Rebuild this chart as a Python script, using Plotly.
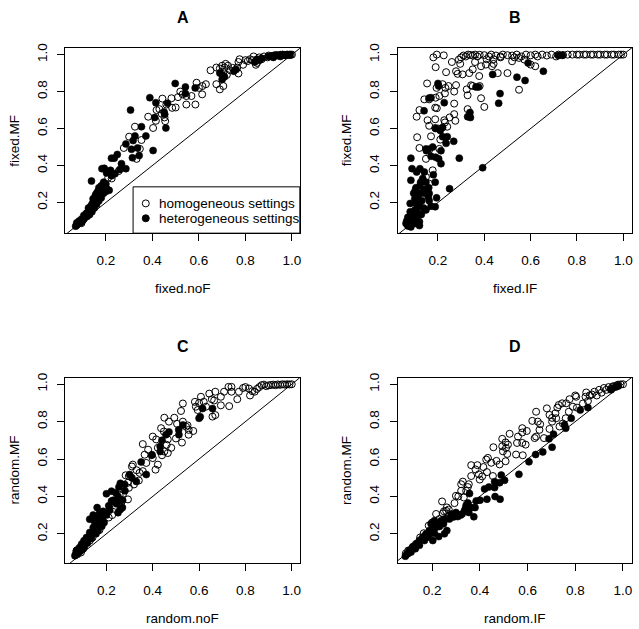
import plotly.graph_objects as go

W, H = 639, 629
FONT = "Liberation Sans, Arial, Helvetica, sans-serif"

TICKS = [0.2, 0.4, 0.6, 0.8, 1.0]
TICK_TEXT = ["0.2", "0.4", "0.6", "0.8", "1.0"]
LEGEND_LABELS = ["homogeneous settings", "heterogeneous settings"]

# ---------------- Panel A : fixed.noF vs fixed.MF ----------------
A_HOM = [(1.00,1.000),(0.995,0.999),(0.99,1.000),(0.985,0.998),(0.98,1.000),(0.975,0.999),(0.97,0.998),
         (0.96,1.000),(0.955,0.997),(0.95,0.999),(0.94,0.996),(0.93,0.998),(0.92,0.994),(0.91,0.992),
         (0.90,0.995),(0.895,0.985),(0.88,0.990),(0.87,0.975),(0.86,0.985),(0.85,0.955),(0.845,0.945),
         (0.835,0.99),(0.83,0.97),(0.82,0.975),(0.81,0.965),(0.80,0.97),(0.79,0.945),(0.775,0.975),
         (0.77,0.96),(0.765,0.93),(0.77,0.898),(0.745,0.928),(0.735,0.915),(0.725,0.94),(0.715,0.95),
         (0.71,0.93),(0.70,0.94),(0.69,0.925),(0.705,0.905),(0.72,0.89),(0.675,0.93),(0.65,0.915),
         (0.675,0.84),(0.69,0.812),(0.705,0.83),(0.63,0.84),(0.615,0.83),(0.614,0.785),(0.60,0.82),
         (0.59,0.848),(0.585,0.73),(0.568,0.776),(0.546,0.776),(0.546,0.73),(0.52,0.80),(0.53,0.785),
         (0.51,0.77),(0.50,0.714),(0.482,0.764),(0.485,0.712),(0.46,0.73),(0.443,0.762),(0.418,0.70),
         (0.44,0.68),(0.43,0.705),(0.382,0.664),(0.415,0.642),(0.452,0.66),(0.403,0.603),(0.455,0.64),
         (0.30,0.556),(0.325,0.61),(0.353,0.538),(0.332,0.436),(0.346,0.49),(0.277,0.495),(0.21,0.334),
         (0.225,0.33),(0.255,0.37),(0.175,0.23),(0.16,0.21),(0.15,0.19),(0.135,0.165),(0.125,0.14),
         (0.11,0.12),(0.10,0.105),(0.09,0.095),(0.085,0.09),(0.075,0.08),(0.095,0.088)]
A_HET = [(0.99,0.998),(0.97,0.996),(0.96,0.999),(0.95,0.99),(0.93,0.995),(0.92,0.985),(0.90,0.99),
         (0.87,0.98),(0.86,0.97),(0.85,0.975),(0.84,0.96),(0.75,0.91),(0.76,0.92),(0.70,0.89),(0.69,0.90),
         (0.70,0.866),(0.71,0.88),(0.498,0.844),(0.542,0.825),(0.542,0.789),(0.584,0.82),(0.389,0.767),
         (0.415,0.74),(0.465,0.737),(0.41,0.66),(0.453,0.677),(0.458,0.603),(0.45,0.69),(0.306,0.70),
         (0.353,0.61),(0.325,0.56),(0.317,0.535),(0.31,0.488),(0.336,0.495),(0.343,0.454),(0.314,0.442),
         (0.372,0.56),(0.403,0.481),(0.286,0.517),(0.249,0.46),(0.224,0.44),(0.236,0.44),(0.22,0.374),
         (0.26,0.379),(0.286,0.383),(0.267,0.41),(0.239,0.356),(0.225,0.345),(0.183,0.383),(0.193,0.385),
         (0.203,0.36),(0.20,0.30),(0.203,0.275),(0.214,0.266),(0.138,0.316),(0.19,0.31),(0.18,0.27),
         (0.17,0.26),(0.175,0.24),(0.165,0.23),(0.16,0.25),(0.155,0.22),(0.15,0.21),(0.145,0.20),
         (0.14,0.19),(0.135,0.17),(0.13,0.16),(0.125,0.15),(0.12,0.145),(0.115,0.13),(0.11,0.12),
         (0.105,0.11),(0.10,0.105),(0.095,0.095),(0.09,0.09),(0.085,0.088),(0.08,0.085),(0.075,0.078),
         (0.07,0.072),(0.075,0.09),(0.085,0.10),(0.095,0.11),(0.105,0.13),(0.115,0.14),(0.125,0.17),
         (0.135,0.18),(0.145,0.22),(0.155,0.24),(0.165,0.26),(0.17,0.28),(0.18,0.29),(0.19,0.25),
         (0.20,0.26),(0.12,0.125),(0.13,0.135),(0.14,0.15),(0.15,0.17),(0.16,0.19),(0.17,0.21),
         (0.18,0.225),(0.185,0.25)]

# ---------------- Panel B : fixed.IF vs fixed.MF ----------------
B_HOM = [(0.30,0.985),(0.31,0.995),(0.32,0.99),(0.33,1.0),(0.34,0.998),(0.35,0.995),(0.36,1.0),(0.37,0.99),
         (0.38,0.999),(0.40,0.997),(0.42,0.99),(0.43,1.0),(0.45,0.995),(0.47,0.99),(0.48,1.0),(0.50,0.997),
         (0.52,0.995),(0.54,1.0),(0.56,0.99),(0.58,1.0),(0.60,0.996),(0.62,1.0),(0.63,0.99),(0.65,1.0),
         (0.67,0.995),(0.69,1.0),(0.71,0.99),(0.72,1.0),(0.74,0.998),(0.76,1.0),(0.78,1.0),(0.80,1.0),
         (0.81,1.0),(0.83,1.0),(0.84,1.0),(0.86,1.0),(0.87,1.0),(0.89,1.0),(0.90,1.0),(0.92,1.0),
         (0.93,1.0),(0.95,1.0),(0.96,1.0),(0.98,1.0),(0.99,1.0),(1.0,1.0),
         (0.18,0.985),(0.195,1.0),(0.225,0.996),(0.19,0.932),(0.235,0.905),(0.26,0.96),(0.29,0.973),
         (0.296,0.95),(0.278,0.91),(0.285,0.896),(0.306,0.893),(0.335,0.90),(0.35,0.92),(0.386,0.937),
         (0.407,0.946),(0.433,0.937),(0.458,0.90),(0.50,0.90),(0.52,0.964),(0.55,0.982),(0.573,0.973),
         (0.60,0.946),(0.62,0.937),(0.55,0.81),(0.22,0.84),(0.232,0.82),(0.194,0.82),(0.206,0.776),
         (0.19,0.767),(0.153,0.844),(0.141,0.758),(0.162,0.758),(0.12,0.70),(0.108,0.664),(0.11,0.553),
         (0.12,0.495),(0.155,0.645),(0.162,0.615),(0.188,0.713),(0.195,0.71),(0.188,0.65),(0.227,0.645),
         (0.23,0.633),(0.17,0.558),(0.188,0.603),(0.20,0.60),(0.24,0.61),(0.27,0.735),(0.27,0.678),
         (0.275,0.642),(0.278,0.835),(0.27,0.80),(0.324,0.812),(0.328,0.78),(0.343,0.834),(0.328,0.705),
         (0.38,0.83),(0.386,0.764),(0.40,0.717),(0.378,0.884),(0.148,0.436),(0.162,0.485),(0.177,0.374),
         (0.148,0.338),(0.162,0.302),(0.206,0.49),(0.25,0.66),(0.36,0.96),(0.41,0.975),(0.44,0.975),
         (0.47,0.985),(0.53,0.985),(0.44,0.95),(0.23,0.79),(0.245,0.83),(0.21,0.54),(0.35,0.83)]
B_HET = [(0.083,0.44),(0.088,0.383),(0.083,0.32),(0.108,0.365),(0.122,0.383),(0.141,0.365),(0.134,0.33),
         (0.148,0.31),(0.122,0.29),(0.102,0.266),(0.12,0.25),(0.141,0.25),(0.162,0.249),(0.158,0.23),
         (0.105,0.195),(0.08,0.195),(0.12,0.18),(0.138,0.17),(0.162,0.21),(0.188,0.31),(0.194,0.225),
         (0.17,0.18),(0.148,0.16),(0.128,0.135),(0.098,0.123),(0.076,0.105),(0.062,0.087),(0.07,0.073),
         (0.083,0.068),(0.102,0.087),(0.12,0.096),(0.12,0.075),(0.09,0.14),(0.10,0.16),(0.11,0.15),
         (0.13,0.21),(0.115,0.23),(0.095,0.25),(0.14,0.27),(0.16,0.28),(0.105,0.28),(0.125,0.31),
         (0.07,0.12),(0.08,0.15),(0.065,0.10),(0.09,0.11),(0.11,0.12),(0.10,0.22),(0.085,0.09),
         (0.14,0.696),(0.148,0.49),(0.158,0.488),(0.177,0.50),(0.19,0.445),(0.203,0.436),(0.213,0.41),
         (0.213,0.48),(0.22,0.556),(0.24,0.556),(0.235,0.52),(0.268,0.531),(0.292,0.44),(0.22,0.606),
         (0.19,0.60),(0.227,0.74),(0.17,0.767),(0.162,0.765),(0.20,0.844),(0.203,0.83),(0.25,0.275),
         (0.188,0.177),(0.393,0.388),(0.328,0.664),(0.338,0.687),(0.34,0.66),(0.364,0.825),(0.375,0.825),
         (0.436,0.893),(0.468,0.789),(0.462,0.737),(0.541,0.878),(0.576,0.86),(0.589,0.955),(0.655,0.91),
         (0.737,0.996),(0.72,0.995),(0.18,0.35),(0.17,0.45),(0.15,0.48),(0.21,0.59)]

# ---------------- Panel C : random.noF vs random.MF ----------------
C_HOM = [(1.0,1.0),(0.99,0.999),(0.98,1.0),(0.97,0.998),(0.96,1.0),(0.95,0.997),(0.94,0.999),(0.93,0.995),
         (0.92,0.998),(0.91,0.996),(0.90,0.994),(0.89,0.99),(0.88,0.998),(0.87,0.995),(0.86,0.985),
         (0.85,0.975),(0.84,0.96),(0.83,0.963),(0.82,0.94),(0.815,0.977),(0.80,0.985),(0.79,0.98),
         (0.772,0.96),(0.765,0.92),(0.74,0.96),(0.727,0.986),(0.74,0.986),(0.708,0.96),(0.694,0.933),
         (0.67,0.96),(0.644,0.95),(0.655,0.92),(0.665,0.913),(0.694,0.887),(0.73,0.883),(0.608,0.933),
         (0.62,0.906),(0.582,0.906),(0.586,0.88),(0.594,0.862),(0.658,0.827),(0.67,0.835),(0.53,0.897),
         (0.522,0.857),(0.493,0.821),(0.45,0.821),(0.47,0.80),(0.505,0.788),(0.53,0.80),(0.526,0.688),
         (0.544,0.773),(0.555,0.756),(0.575,0.75),(0.555,0.73),(0.50,0.71),(0.436,0.765),(0.448,0.747),
         (0.40,0.72),(0.415,0.705),(0.422,0.66),(0.465,0.705),(0.46,0.676),(0.465,0.632),(0.357,0.68),
         (0.365,0.623),(0.372,0.579),(0.40,0.605),(0.422,0.57),(0.412,0.543),(0.357,0.535),(0.343,0.526),
         (0.314,0.57),(0.31,0.56),(0.297,0.508),(0.293,0.473),(0.283,0.513),(0.297,0.446),(0.319,0.464),
         (0.34,0.485),(0.272,0.414),(0.257,0.407),(0.264,0.366),(0.293,0.384),(0.21,0.287),(0.225,0.30),
         (0.18,0.30),(0.128,0.163),(0.071,0.11),(0.45,0.64),(0.48,0.66),(0.44,0.62),(0.38,0.65),(0.33,0.54),
         (0.60,0.90),(0.63,0.88),(0.55,0.78),(0.24,0.35),(0.17,0.22),(0.14,0.18),(0.10,0.12),(0.09,0.10)]
C_HET = [(0.615,0.87),(0.658,0.87),(0.60,0.818),(0.605,0.826),(0.53,0.782),(0.512,0.756),(0.513,0.73),
         (0.457,0.73),(0.47,0.745),(0.432,0.667),(0.432,0.64),(0.397,0.623),(0.35,0.584),(0.372,0.517),
         (0.30,0.517),(0.279,0.464),(0.254,0.45),(0.26,0.47),(0.329,0.48),(0.20,0.414),(0.222,0.428),
         (0.222,0.375),(0.243,0.36),(0.257,0.375),(0.25,0.40),(0.269,0.34),(0.25,0.313),(0.214,0.326),
         (0.186,0.32),(0.16,0.34),(0.143,0.30),(0.128,0.278),(0.157,0.285),(0.17,0.29),(0.15,0.26),
         (0.169,0.251),(0.164,0.216),(0.143,0.234),(0.128,0.207),(0.114,0.18),(0.103,0.163),(0.093,0.145),
         (0.085,0.127),(0.071,0.11),(0.064,0.083),(0.068,0.095),(0.075,0.10),(0.08,0.12),(0.09,0.13),
         (0.10,0.14),(0.11,0.16),(0.12,0.17),(0.13,0.19),(0.14,0.21),(0.15,0.23),(0.16,0.25),(0.17,0.27),
         (0.18,0.28),(0.155,0.20),(0.135,0.175),(0.118,0.15),(0.105,0.13),(0.095,0.115),(0.085,0.105),
         (0.075,0.09),(0.19,0.26),(0.18,0.24),(0.20,0.30),(0.21,0.35),(0.23,0.38),(0.24,0.42),(0.27,0.38),
         (0.28,0.43),(0.26,0.33),(0.17,0.31),(0.31,0.50),(0.395,0.62),(0.44,0.70)]

# ---------------- Panel D : random.IF vs random.MF ----------------
D_HOM = [(1.0,1.0),(0.99,0.999),(0.98,0.998),(0.975,0.995),(0.97,0.99),(0.96,0.99),(0.955,0.985),
         (0.95,0.975),(0.94,0.985),(0.93,0.97),(0.92,0.98),(0.91,0.955),(0.90,0.97),(0.89,0.94),
         (0.88,0.96),(0.87,0.945),(0.86,0.94),(0.846,0.956),(0.843,0.933),(0.853,0.91),(0.832,0.897),
         (0.804,0.933),(0.80,0.94),(0.776,0.92),(0.79,0.88),(0.807,0.875),(0.762,0.898),(0.773,0.853),
         (0.745,0.898),(0.731,0.889),(0.725,0.875),(0.717,0.845),(0.72,0.818),(0.703,0.82),(0.703,0.80),
         (0.681,0.871),(0.692,0.836),(0.692,0.761),(0.734,0.774),(0.748,0.79),(0.76,0.818),(0.636,0.853),
         (0.62,0.804),(0.643,0.80),(0.653,0.786),(0.65,0.756),(0.636,0.72),(0.63,0.712),(0.669,0.712),
         (0.578,0.765),(0.578,0.742),(0.56,0.72),(0.597,0.75),(0.556,0.686),(0.578,0.686),(0.592,0.677),
         (0.58,0.62),(0.552,0.624),(0.525,0.735),(0.494,0.708),(0.508,0.689),(0.518,0.677),(0.51,0.659),
         (0.494,0.668),(0.497,0.641),(0.515,0.627),(0.508,0.588),(0.483,0.571),(0.457,0.663),(0.434,0.606),
         (0.427,0.597),(0.448,0.58),(0.455,0.509),(0.415,0.557),(0.39,0.567),(0.364,0.567),(0.382,0.544),
         (0.396,0.518),(0.41,0.507),(0.364,0.509),(0.354,0.465),(0.329,0.479),(0.322,0.465),(0.343,0.43),
         (0.322,0.43),(0.333,0.394),(0.30,0.403),(0.294,0.364),(0.262,0.341),(0.242,0.373),(0.245,0.309),
         (0.217,0.306),(0.231,0.279),(0.259,0.323),(0.186,0.244),(0.165,0.203),(0.35,0.45),(0.31,0.40),
         (0.27,0.33),(0.25,0.32),(0.20,0.26),(0.15,0.18),(0.12,0.13),(0.10,0.11),(0.09,0.095),(0.47,0.59),
         (0.43,0.53),(0.40,0.49)]
D_HET = [(0.97,0.985),(0.95,0.97),(0.98,0.99),(0.853,0.875),(0.821,0.862),(0.783,0.818),(0.755,0.783),
         (0.76,0.765),(0.709,0.733),(0.69,0.708),(0.703,0.663),(0.664,0.638),(0.634,0.624),(0.606,0.585),
         (0.564,0.518),(0.49,0.514),(0.504,0.486),(0.483,0.473),(0.462,0.479),(0.438,0.45),(0.462,0.447),
         (0.464,0.399),(0.485,0.385),(0.43,0.385),(0.401,0.38),(0.385,0.376),(0.357,0.415),(0.343,0.353),
         (0.364,0.341),(0.375,0.291),(0.354,0.314),(0.336,0.323),(0.326,0.306),(0.30,0.314),(0.308,0.292),
         (0.28,0.306),(0.273,0.279),(0.252,0.279),(0.248,0.253),(0.231,0.239),(0.217,0.235),(0.21,0.203),
         (0.203,0.164),(0.228,0.185),(0.252,0.20),(0.189,0.217),(0.175,0.20),(0.161,0.182),(0.147,0.164),
         (0.133,0.147),(0.119,0.129),(0.105,0.111),(0.094,0.09),(0.112,0.102),(0.13,0.12),(0.147,0.138),
         (0.168,0.164),(0.182,0.182),(0.196,0.253),(0.21,0.27),(0.238,0.27),(0.262,0.217),(0.088,0.08),
         (0.10,0.095),(0.11,0.115),(0.125,0.135),(0.14,0.15),(0.155,0.17),(0.17,0.19),(0.19,0.20),
         (0.205,0.22),(0.22,0.25),(0.235,0.26),(0.26,0.28),(0.29,0.29),(0.32,0.30),(0.34,0.335),
         (0.38,0.34),(0.42,0.44),(0.35,0.365)]

# ---------------- layout (pixel boxes of each plot region) ----------------
PANELS = [
    dict(title="A", hom=A_HOM, het=A_HET, xlab="fixed.noF", ylab="fixed.MF",
         box=(65.3, 43.3, 300.3, 230.0), xr=(0.025, 1.034), yr=(0.034, 1.036)),
    dict(title="B", hom=B_HOM, het=B_HET, xlab="fixed.IF", ylab="fixed.MF",
         box=(398.3, 43.3, 633.3, 230.0), xr=(0.026, 1.039), yr=(0.034, 1.036)),
    dict(title="C", hom=C_HOM, het=C_HET, xlab="random.noF", ylab="random.MF",
         box=(65.3, 375.7, 300.3, 562.4), xr=(0.022, 1.035), yr=(0.044, 1.035)),
    dict(title="D", hom=D_HOM, het=D_HET, xlab="random.IF", ylab="random.MF",
         box=(398.3, 375.7, 633.3, 562.4), xr=(0.056, 1.039), yr=(0.044, 1.035)),
]

fig = go.Figure()
annotations = []
shapes = []
layout_axes = {}

MS = 7
for i, p in enumerate(PANELS, start=1):
    x0, y0, x1, y1 = p["box"]
    xa = "x" if i == 1 else f"x{i}"
    ya = "y" if i == 1 else f"y{i}"
    xkey = "xaxis" if i == 1 else f"xaxis{i}"
    ykey = "yaxis" if i == 1 else f"yaxis{i}"
    common = dict(showline=True, linecolor="black", linewidth=1, mirror=True,
                  ticks="outside", ticklen=7, tickwidth=1, tickcolor="black",
                  tickvals=TICKS, ticktext=TICK_TEXT, showgrid=False, zeroline=False,
                  tickfont=dict(family=FONT, size=13.5, color="black"), fixedrange=True)
    layout_axes[xkey] = dict(common, domain=[x0 / W, x1 / W], range=list(p["xr"]),
                             anchor=ya, ticklabelstandoff=8)
    layout_axes[ykey] = dict(common, domain=[1 - y1 / H, 1 - y0 / H], range=list(p["yr"]),
                             anchor=xa, tickangle=-90, ticklabelstandoff=5)

    # reference line y = x across the plotting region
    lo = min(p["xr"][0], p["yr"][0])
    hi = max(p["xr"][1], p["yr"][1])
    fig.add_trace(go.Scatter(x=[lo, hi], y=[lo, hi], mode="lines",
                             line=dict(color="black", width=1), xaxis=xa, yaxis=ya,
                             hoverinfo="skip", showlegend=False))
    fig.add_trace(go.Scatter(x=[v[0] for v in p["hom"]], y=[v[1] for v in p["hom"]],
                             mode="markers", xaxis=xa, yaxis=ya, showlegend=False,
                             marker=dict(symbol="circle-open", size=MS, color="black",
                                         line=dict(width=1, color="black"))))
    fig.add_trace(go.Scatter(x=[v[0] for v in p["het"]], y=[v[1] for v in p["het"]],
                             mode="markers", xaxis=xa, yaxis=ya, showlegend=False,
                             marker=dict(symbol="circle", size=MS, color="black",
                                         line=dict(width=0.6, color="black"))))

    cx = (x0 + x1) / 2
    cy = (y0 + y1) / 2
    annotations.append(dict(text="<b>%s</b>" % p["title"], x=cx / W, y=1 - (y0 - 31) / H,
                            xref="paper", yref="paper", showarrow=False,
                            xanchor="center", yanchor="middle",
                            font=dict(family=FONT, size=16, color="black")))
    annotations.append(dict(text=p["xlab"], x=cx / W, y=1 - (y1 + 56) / H,
                            xref="paper", yref="paper", showarrow=False,
                            xanchor="center", yanchor="middle",
                            font=dict(family=FONT, size=13.5, color="black")))
    annotations.append(dict(text=p["ylab"], x=(x0 - 51) / W, y=1 - cy / H,
                            xref="paper", yref="paper", showarrow=False, textangle=-90,
                            xanchor="center", yanchor="middle",
                            font=dict(family=FONT, size=13.5, color="black")))

# legend of panel A (drawn by hand, R style)
A = PANELS[0]
ax0, ay0, ax1, ay1 = A["box"]
leg = (133.3, 183.3, ax1, ay1)
shapes.append(dict(type="rect", xref="paper", yref="paper",
                   x0=leg[0] / W, x1=leg[2] / W, y0=1 - leg[3] / H, y1=1 - leg[1] / H,
                   line=dict(color="black", width=1), fillcolor="white", layer="below"))


def px_to_data(px, py, p):
    bx0, by0, bx1, by1 = p["box"]
    xv = p["xr"][0] + (px - bx0) / (bx1 - bx0) * (p["xr"][1] - p["xr"][0])
    yv = p["yr"][0] + (by1 - py) / (by1 - by0) * (p["yr"][1] - p["yr"][0])
    return xv, yv


key_rows = [200.0, 215.0]
symbols = ["circle-open", "circle"]
for row, sym, lab in zip(key_rows, symbols, LEGEND_LABELS):
    kx, ky = px_to_data(leg[0] + 12.7, row, A)
    fig.add_trace(go.Scatter(x=[kx], y=[ky], mode="markers", xaxis="x", yaxis="y",
                             showlegend=False, cliponaxis=False,
                             marker=dict(symbol=sym, size=MS, color="black",
                                         line=dict(width=1, color="black"))))
    annotations.append(dict(text=lab, x=(leg[0] + 23.7) / W, y=1 - row / H,
                            xref="paper", yref="paper", showarrow=False,
                            xanchor="left", yanchor="middle",
                            font=dict(family=FONT, size=13.5, color="black")))

fig.update_layout(width=W, height=H, autosize=False,
                  margin=dict(l=0, r=0, t=0, b=0, pad=0),
                  paper_bgcolor="white", plot_bgcolor="white",
                  showlegend=False, hovermode=False,
                  annotations=annotations, shapes=shapes,
                  **layout_axes)

fig.write_html("out.html",
               config={"displayModeBar": False, "staticPlot": True},
               post_script="document.body.style.margin='0';document.body.style.padding='0';"
                           "document.body.style.overflow='hidden';")
